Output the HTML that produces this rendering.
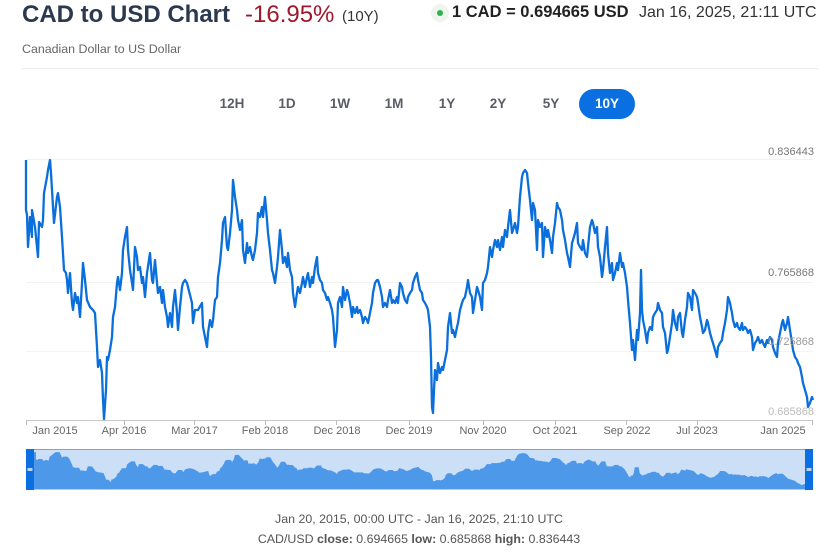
<!DOCTYPE html>
<html><head><meta charset="utf-8">
<style>
html,body{margin:0;padding:0;background:#fff;}
body{width:832px;height:558px;overflow:hidden;position:relative;font-family:"Liberation Sans",Arial,sans-serif;}
.a{position:absolute;white-space:nowrap;}
.btn{position:absolute;top:89px;width:56px;height:30px;line-height:30px;text-align:center;font-weight:bold;font-size:13.5px;color:#5b5d66;}
.yl{position:absolute;right:18px;font-size:11px;line-height:13px;color:#777;text-align:right;}
.xl{position:absolute;top:425px;width:80px;font-size:11px;line-height:13px;color:#666;text-align:center;}
</style></head><body>
<div class="a" style="left:22px;top:1px;font-size:24px;line-height:28px;font-weight:bold;color:#2a3950;">CAD to USD Chart</div>
<div class="a" style="left:245px;top:1px;font-size:24px;line-height:28px;color:#a0182b;">-16.95%</div>
<div class="a" style="left:342px;top:7px;font-size:15px;line-height:20px;color:#333;">(10Y)</div>
<div class="a" style="left:22px;top:41.7px;font-size:12.4px;line-height:14px;color:#666;">Canadian Dollar to US Dollar</div>
<div class="a" style="left:22px;top:68px;width:796px;height:1px;background:#ececec;"></div>

<div class="a" style="left:431px;top:4px;width:18px;height:18px;border-radius:50%;background:#eef5ee;"></div>
<div class="a" style="left:437px;top:10px;width:6px;height:6px;border-radius:50%;background:#2db34a;"></div>
<div class="a" style="left:452px;top:2.3px;font-size:16.5px;line-height:20px;font-weight:bold;color:#222;">1 CAD = 0.694665 USD</div>
<div class="a" style="left:639px;top:2.5px;font-size:16px;line-height:20px;color:#333;">Jan 16, 2025, 21:11 UTC</div>

<div class="btn" style="left:204px;">12H</div>
<div class="btn" style="left:259px;">1D</div>
<div class="btn" style="left:312px;">1W</div>
<div class="btn" style="left:366px;">1M</div>
<div class="btn" style="left:419px;">1Y</div>
<div class="btn" style="left:470px;">2Y</div>
<div class="btn" style="left:523px;">5Y</div>
<div class="btn" style="left:579px;background:#0a6fe0;color:#fff;border-radius:15px;">10Y</div>

<svg class="a" style="left:0;top:0;" width="832" height="558" viewBox="0 0 832 558">
<defs>
<polyline id="ln" points="26,160 26,210 27,215 28,247 30,217 32,237 32,210 35,227 37,247 38,257 39,222 42,227 43,220 44,193 47,177 48,170 50,160 51,173 53,207 54,223 57,197 58,193 60,207 62,237 64,270 66,273 67,280 68,293 70,273 72,303 73,310 75,293 77,303 78,297 80,317 82,283 83,263 85,280 87,300 90,307 93,310 95,313 97,347 98,367 100,360 102,373 103,400 104,419 106,390 107,357 108,360 110,350 112,337 113,317 115,307 117,283 118,277 120,290 122,273 123,250 125,237 127,227 128,250 130,270 132,283 133,290 135,247 137,257 138,270 140,267 142,283 143,277 145,297 147,273 150,253 152,280 153,283 155,260 157,283 158,293 160,287 162,303 163,290 165,307 167,317 168,327 170,313 172,327 173,307 175,290 177,313 178,330 180,307 182,287 183,283 185,280 187,283 188,287 192,303 193,323 195,310 198,310 202,303 203,327 205,337 207,347 208,333 210,320 212,327 213,320 215,300 217,297 218,277 220,263 222,240 223,223 225,217 227,247 228,250 230,233 232,210 233,180 235,197 237,210 238,220 240,230 242,220 243,250 245,263 247,243 248,253 250,247 252,257 253,260 255,250 257,233 258,213 260,217 262,207 263,217 265,197 267,220 268,233 270,250 272,270 273,273 275,283 277,267 278,257 280,230 282,250 283,263 285,257 287,267 288,253 290,270 292,277 293,293 295,307 297,293 298,287 300,293 302,283 303,277 305,287 307,277 308,273 310,287 312,277 313,283 315,267 317,257 318,273 320,280 322,283 323,290 325,293 327,300 328,297 330,303 332,310 333,317 335,347 337,330 338,303 340,297 342,307 343,287 345,300 347,290 348,293 350,303 352,317 353,307 355,313 357,307 358,313 360,310 362,317 363,323 365,317 367,320 368,323 370,313 372,303 373,293 375,283 377,280 378,280 380,287 382,297 383,307 385,303 387,307 388,300 390,290 392,303 393,300 395,303 397,297 398,303 400,283 402,287 403,293 405,300 407,303 408,297 410,293 412,290 413,283 415,277 417,273 418,280 420,290 422,293 423,300 425,303 427,307 428,310 430,327 431,357 432,407 433,413 434,390 435,370 437,380 438,363 440,373 442,367 443,370 445,360 447,350 448,327 450,313 452,333 453,330 455,337 457,327 458,323 460,310 462,303 463,300 465,297 467,287 468,280 470,293 472,297 473,313 475,300 477,287 478,290 480,297 482,310 483,283 485,280 487,273 488,267 490,247 492,257 493,250 495,240 497,247 498,240 500,250 502,237 503,247 505,230 507,237 508,227 510,210 512,233 513,230 515,223 517,233 518,227 520,197 522,177 523,173 525,170 527,173 528,183 530,200 532,220 533,203 535,210 537,250 538,220 540,227 542,223 543,257 545,227 547,237 548,230 550,240 552,253 553,237 555,223 557,203 558,207 560,210 562,220 563,230 565,240 567,253 568,257 570,267 572,243 573,240 575,233 577,223 578,243 580,247 582,250 583,240 585,253 587,257 588,247 590,227 592,220 593,223 595,233 597,227 598,247 600,257 602,277 603,270 605,247 607,227 608,253 610,273 612,263 613,280 615,273 617,263 618,270 620,253 622,267 623,263 625,273 627,287 628,300 630,323 632,350 633,340 635,360 637,330 638,340 640,313 641,270 642,310 643,320 645,330 647,343 648,333 650,327 652,330 653,317 655,313 657,310 658,303 660,310 662,313 663,327 665,333 667,353 668,350 670,337 672,323 673,310 675,323 677,330 678,317 680,313 682,333 683,337 685,320 687,307 688,293 690,297 692,310 693,290 695,293 697,297 698,303 700,317 702,327 703,333 705,330 707,320 708,323 710,333 712,340 713,343 715,350 717,357 718,347 720,343 722,340 723,333 725,323 727,310 728,297 730,303 732,313 733,320 735,327 737,323 738,327 740,330 742,323 743,330 745,327 747,330 748,333 750,330 752,337 753,350 755,343 757,340 758,337 760,343 762,340 763,343 765,347 767,340 768,343 770,337 772,340 773,347 775,353 777,357 778,343 780,333 782,323 783,320 785,330 787,323 788,317 790,330 792,343 793,350 795,357 797,360 798,363 800,367 802,377 803,383 805,390 807,397 808,407 810,403 812,397 813,400"/>
</defs>
<!-- grid -->
<line x1="26" y1="159.5" x2="813" y2="159.5" stroke="#f2f2f2" stroke-width="1"/>
<line x1="26" y1="282.5" x2="813" y2="282.5" stroke="#f2f2f2" stroke-width="1"/>
<line x1="26" y1="351.5" x2="813" y2="351.5" stroke="#f4f4f4" stroke-width="1"/>
<!-- axis -->
<line x1="26" y1="420.5" x2="813" y2="420.5" stroke="#c8c8c8" stroke-width="1"/>
<g stroke="#bbb" stroke-width="1">
<line x1="26.5" y1="420" x2="26.5" y2="425"/>
<line x1="124.5" y1="420" x2="124.5" y2="425"/>
<line x1="194.5" y1="420" x2="194.5" y2="425"/>
<line x1="265.5" y1="420" x2="265.5" y2="425"/>
<line x1="336.5" y1="420" x2="336.5" y2="425"/>
<line x1="409.5" y1="420" x2="409.5" y2="425"/>
<line x1="483.5" y1="420" x2="483.5" y2="425"/>
<line x1="555.5" y1="420" x2="555.5" y2="425"/>
<line x1="626.5" y1="420" x2="626.5" y2="425"/>
<line x1="697.5" y1="420" x2="697.5" y2="425"/>
<line x1="812.5" y1="420" x2="812.5" y2="425"/>
</g>
<use href="#ln" fill="none" stroke="#0b6fdb" stroke-width="2.3" stroke-linejoin="round"/>
<!-- navigator -->
<rect x="26" y="449" width="787" height="41" fill="#cbe0f7"/>
<g transform="translate(34,452) scale(0.98,0.138) translate(-26,-159)">
<polygon fill="#4e98ea" stroke="#4e98ea" stroke-width="4" points="26,427 26,160 26,210 27,215 28,247 30,217 32,237 32,210 35,227 37,247 38,257 39,222 42,227 43,220 44,193 47,177 48,170 50,160 51,173 53,207 54,223 57,197 58,193 60,207 62,237 64,270 66,273 67,280 68,293 70,273 72,303 73,310 75,293 77,303 78,297 80,317 82,283 83,263 85,280 87,300 90,307 93,310 95,313 97,347 98,367 100,360 102,373 103,400 104,419 106,390 107,357 108,360 110,350 112,337 113,317 115,307 117,283 118,277 120,290 122,273 123,250 125,237 127,227 128,250 130,270 132,283 133,290 135,247 137,257 138,270 140,267 142,283 143,277 145,297 147,273 150,253 152,280 153,283 155,260 157,283 158,293 160,287 162,303 163,290 165,307 167,317 168,327 170,313 172,327 173,307 175,290 177,313 178,330 180,307 182,287 183,283 185,280 187,283 188,287 192,303 193,323 195,310 198,310 202,303 203,327 205,337 207,347 208,333 210,320 212,327 213,320 215,300 217,297 218,277 220,263 222,240 223,223 225,217 227,247 228,250 230,233 232,210 233,180 235,197 237,210 238,220 240,230 242,220 243,250 245,263 247,243 248,253 250,247 252,257 253,260 255,250 257,233 258,213 260,217 262,207 263,217 265,197 267,220 268,233 270,250 272,270 273,273 275,283 277,267 278,257 280,230 282,250 283,263 285,257 287,267 288,253 290,270 292,277 293,293 295,307 297,293 298,287 300,293 302,283 303,277 305,287 307,277 308,273 310,287 312,277 313,283 315,267 317,257 318,273 320,280 322,283 323,290 325,293 327,300 328,297 330,303 332,310 333,317 335,347 337,330 338,303 340,297 342,307 343,287 345,300 347,290 348,293 350,303 352,317 353,307 355,313 357,307 358,313 360,310 362,317 363,323 365,317 367,320 368,323 370,313 372,303 373,293 375,283 377,280 378,280 380,287 382,297 383,307 385,303 387,307 388,300 390,290 392,303 393,300 395,303 397,297 398,303 400,283 402,287 403,293 405,300 407,303 408,297 410,293 412,290 413,283 415,277 417,273 418,280 420,290 422,293 423,300 425,303 427,307 428,310 430,327 431,357 432,407 433,413 434,390 435,370 437,380 438,363 440,373 442,367 443,370 445,360 447,350 448,327 450,313 452,333 453,330 455,337 457,327 458,323 460,310 462,303 463,300 465,297 467,287 468,280 470,293 472,297 473,313 475,300 477,287 478,290 480,297 482,310 483,283 485,280 487,273 488,267 490,247 492,257 493,250 495,240 497,247 498,240 500,250 502,237 503,247 505,230 507,237 508,227 510,210 512,233 513,230 515,223 517,233 518,227 520,197 522,177 523,173 525,170 527,173 528,183 530,200 532,220 533,203 535,210 537,250 538,220 540,227 542,223 543,257 545,227 547,237 548,230 550,240 552,253 553,237 555,223 557,203 558,207 560,210 562,220 563,230 565,240 567,253 568,257 570,267 572,243 573,240 575,233 577,223 578,243 580,247 582,250 583,240 585,253 587,257 588,247 590,227 592,220 593,223 595,233 597,227 598,247 600,257 602,277 603,270 605,247 607,227 608,253 610,273 612,263 613,280 615,273 617,263 618,270 620,253 622,267 623,263 625,273 627,287 628,300 630,323 632,350 633,340 635,360 637,330 638,340 640,313 641,270 642,310 643,320 645,330 647,343 648,333 650,327 652,330 653,317 655,313 657,310 658,303 660,310 662,313 663,327 665,333 667,353 668,350 670,337 672,323 673,310 675,323 677,330 678,317 680,313 682,333 683,337 685,320 687,307 688,293 690,297 692,310 693,290 695,293 697,297 698,303 700,317 702,327 703,333 705,330 707,320 708,323 710,333 712,340 713,343 715,350 717,357 718,347 720,343 722,340 723,333 725,323 727,310 728,297 730,303 732,313 733,320 735,327 737,323 738,327 740,330 742,323 743,330 745,327 747,330 748,333 750,330 752,337 753,350 755,343 757,340 758,337 760,343 762,340 763,343 765,347 767,340 768,343 770,337 772,340 773,347 775,353 777,357 778,343 780,333 782,323 783,320 785,330 787,323 788,317 790,330 792,343 793,350 795,357 797,360 798,363 800,367 802,377 803,383 805,390 807,397 808,407 810,403 812,397 813,400 813,427"/>
</g>
<line x1="26" y1="449.5" x2="813" y2="449.5" stroke="#6ea6ea" stroke-width="1"/>
<rect x="26" y="449" width="8" height="41" fill="#0a6fe0"/>
<rect x="805" y="449" width="8" height="41" fill="#0a6fe0"/>
<rect x="27.5" y="468" width="5" height="3" fill="#b9d0ee"/>
<rect x="806.5" y="468" width="5" height="3" fill="#b9d0ee"/>
</svg>

<div class="yl" style="top:145.6px;">0.836443</div>
<div class="yl" style="top:267px;">0.765868</div>
<div class="yl" style="top:336px;color:#999;">0.725868</div>
<div class="yl" style="top:406px;color:#bbb;">0.685868</div>

<div class="xl" style="left:15px;">Jan 2015</div>
<div class="xl" style="left:84px;">Apr 2016</div>
<div class="xl" style="left:154.5px;">Mar 2017</div>
<div class="xl" style="left:225px;">Feb 2018</div>
<div class="xl" style="left:297px;">Dec 2018</div>
<div class="xl" style="left:369px;">Dec 2019</div>
<div class="xl" style="left:443px;">Nov 2020</div>
<div class="xl" style="left:515px;">Oct 2021</div>
<div class="xl" style="left:587px;">Sep 2022</div>
<div class="xl" style="left:657px;">Jul 2023</div>
<div class="xl" style="left:743px;">Jan 2025</div>

<div class="a" style="left:0;width:838px;text-align:center;top:512px;font-size:12.4px;line-height:15px;color:#555;">Jan 20, 2015, 00:00 UTC - Jan 16, 2025, 21:10 UTC</div>
<div class="a" style="left:0;width:838px;text-align:center;top:532px;font-size:12.4px;line-height:15px;color:#555;">CAD/USD <b>close:</b> 0.694665 <b>low:</b> 0.685868 <b>high:</b> 0.836443</div>
</body></html>
